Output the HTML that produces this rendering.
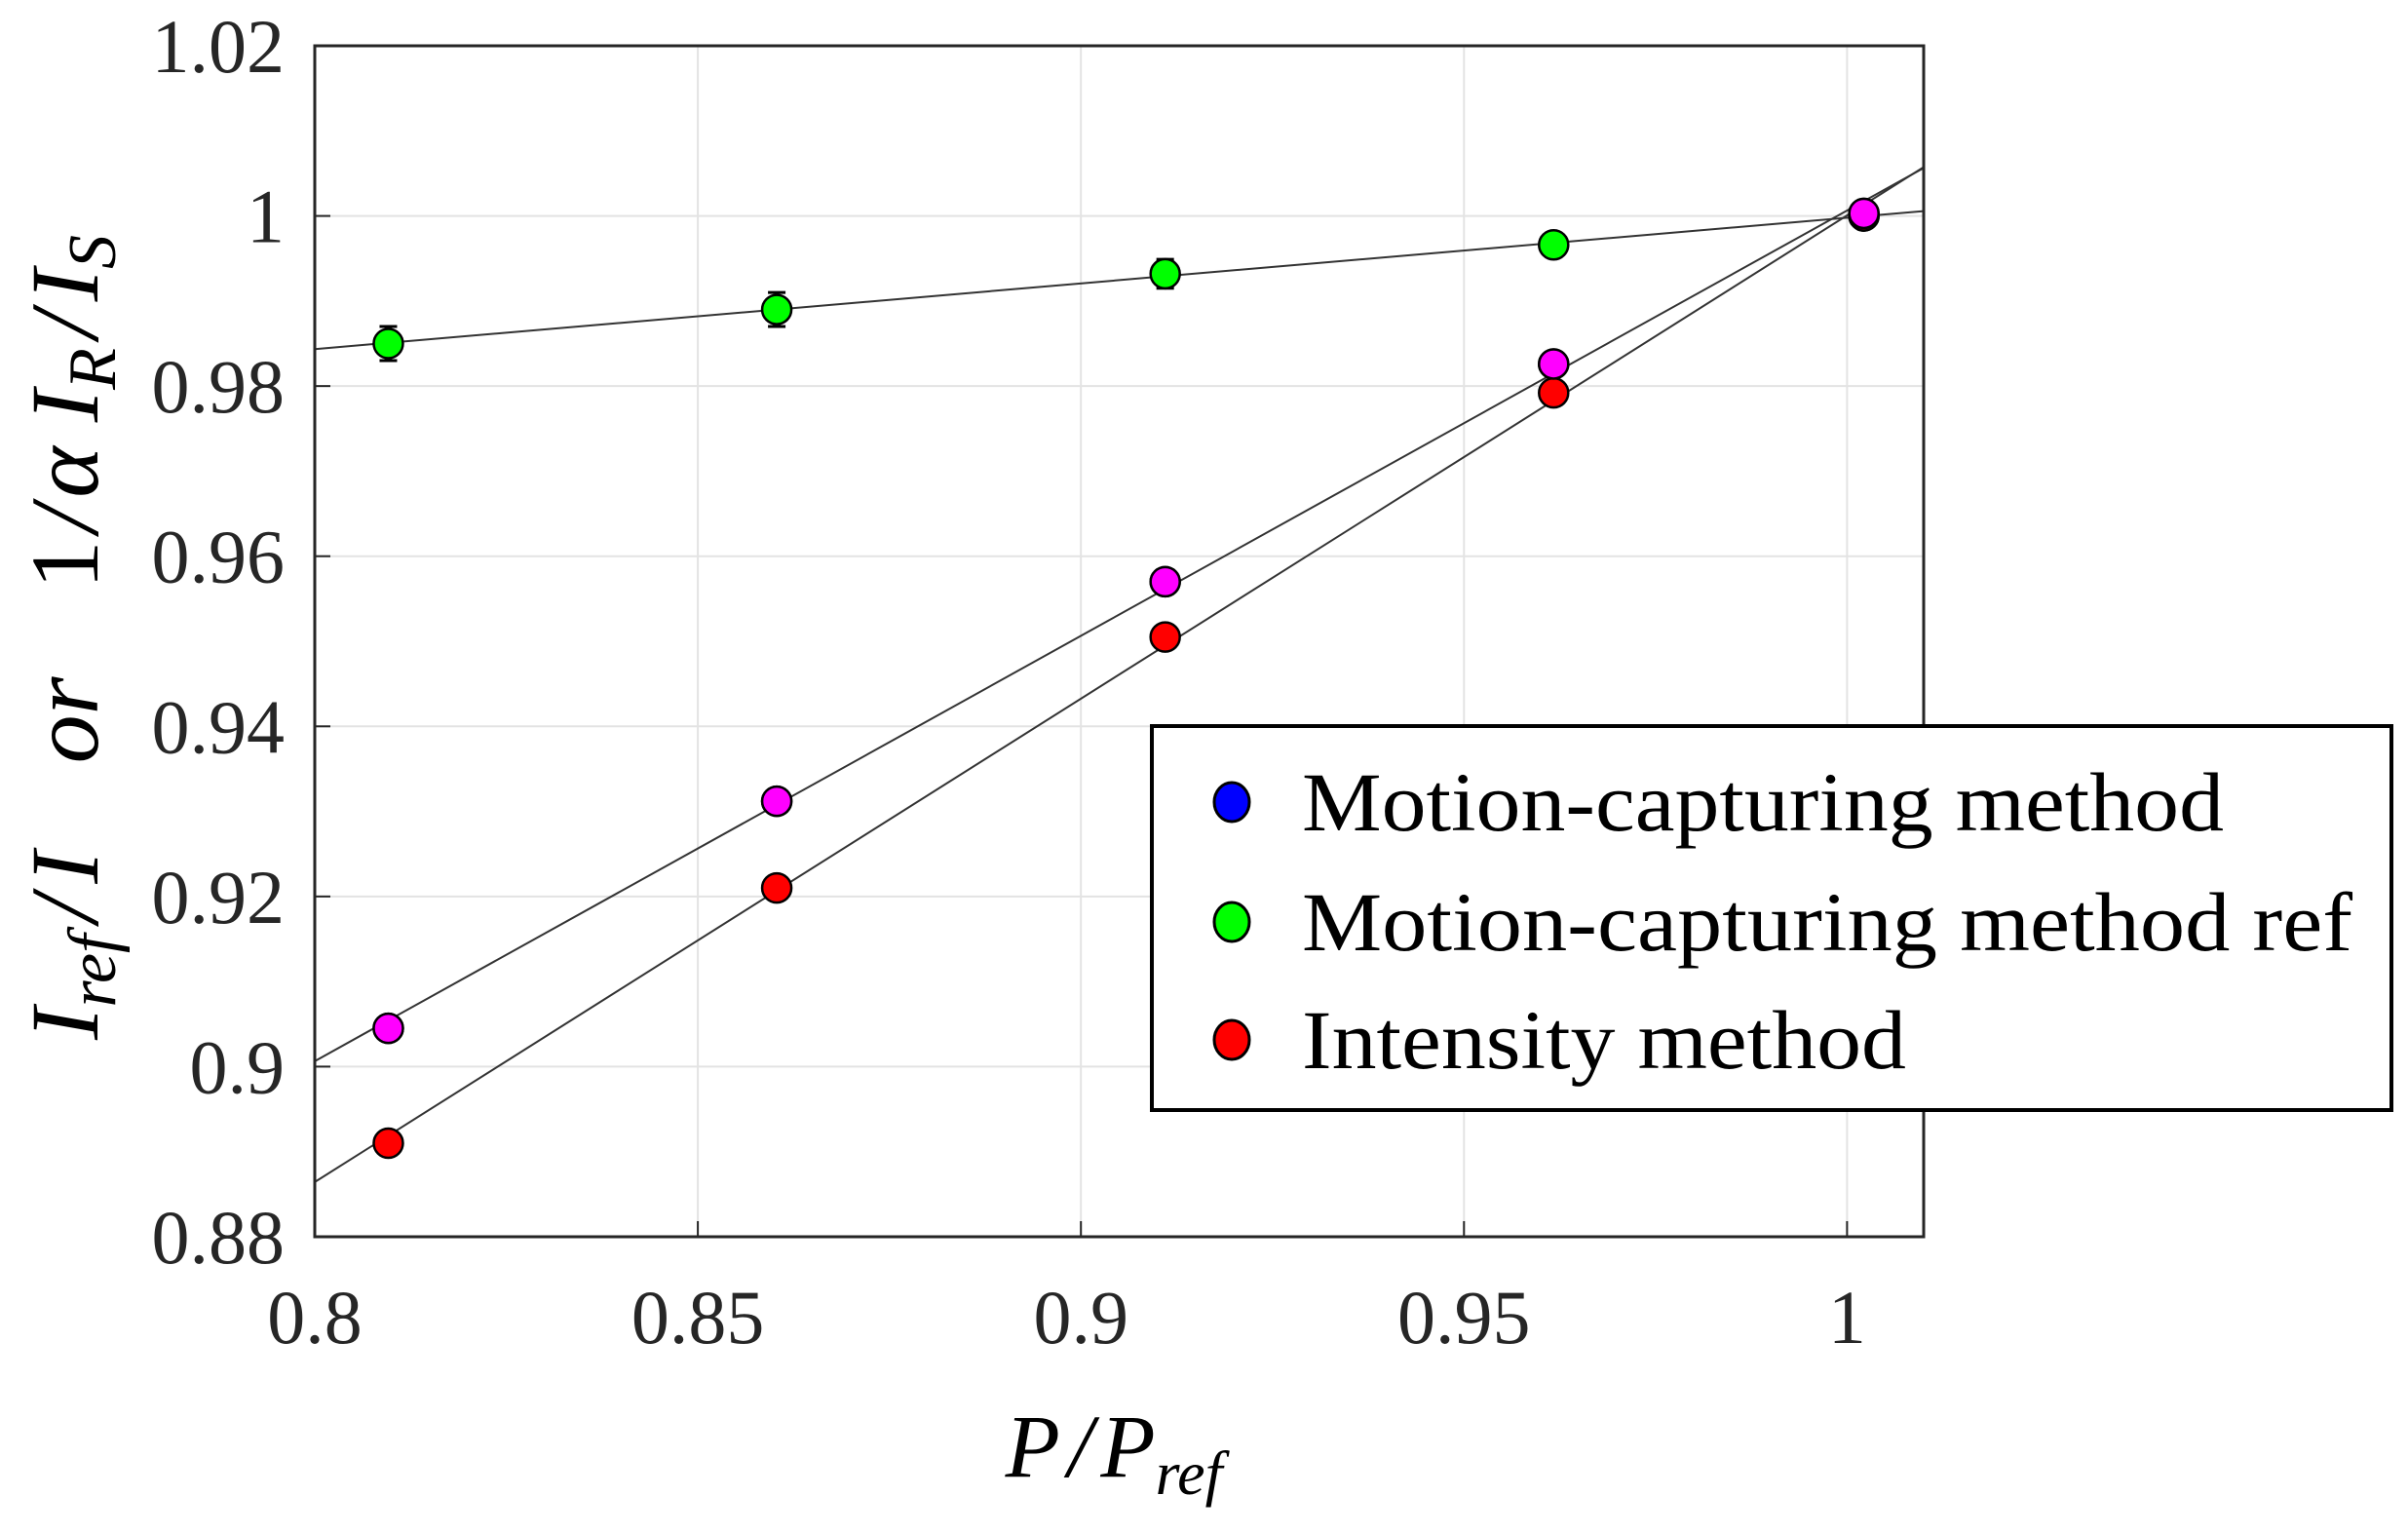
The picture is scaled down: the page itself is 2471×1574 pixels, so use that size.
<!DOCTYPE html>
<html><head><meta charset="utf-8"><style>
html,body{margin:0;padding:0;background:#fff;}
svg{display:block;}
text{font-family:"Liberation Serif",serif;fill:#262626;}
</style></head><body>
<svg id="chart" width="2471" height="1574" viewBox="0 0 2471 1574" xmlns="http://www.w3.org/2000/svg">
<g id="grid"></g>
<g id="fits"></g>
<g id="marks"></g>
<rect x="323" y="47" width="1651" height="1222" fill="none" stroke="#262626" stroke-width="3"/>
<g id="ticks"></g>
<text x="1143" y="1515" font-size="92" font-style="italic" text-anchor="middle" style="fill:#000">P<tspan dx="8">/</tspan><tspan dx="8">P</tspan><tspan font-size="64" dy="18">ref</tspan></text>
<text transform="translate(100,654) rotate(-90)" font-size="100" font-style="italic" text-anchor="middle" style="fill:#000">I<tspan font-size="70" dy="18">ref</tspan><tspan dy="-18" dx="12">/</tspan><tspan dx="12">I</tspan><tspan dx="90">or</tspan><tspan dx="90" font-style="normal">1</tspan><tspan dx="8">/</tspan><tspan dx="8">α I</tspan><tspan font-size="70" dy="18">R</tspan><tspan dy="-18" dx="10">/</tspan><tspan dx="10">I</tspan><tspan font-size="70" dy="18">S</tspan></text>
<g>
<rect x="1182" y="745" width="1272" height="394" fill="#fff" stroke="#000" stroke-width="4"/>
<g><ellipse cx="1264" cy="823" rx="18" ry="20" fill="#0000ff" stroke="#000" stroke-width="3"/><text x="1336" y="852" font-size="86" textLength="946" lengthAdjust="spacingAndGlyphs" style="fill:#000">Motion-capturing method</text></g>
<g><ellipse cx="1264" cy="946" rx="18" ry="20" fill="#00ff00" stroke="#000" stroke-width="3"/><text x="1336" y="975" font-size="86" textLength="1078" lengthAdjust="spacingAndGlyphs" style="fill:#000">Motion-capturing method ref</text></g>
<g><ellipse cx="1264" cy="1067" rx="18" ry="20" fill="#ff0000" stroke="#000" stroke-width="3"/><text x="1336" y="1096" font-size="86" textLength="620" lengthAdjust="spacingAndGlyphs" style="fill:#000">Intensity method</text></g>
</g>
</svg>
<script>
const xTicks=[0.8,0.85,0.9,0.95,1];
const xTickLabels=["0.8","0.85","0.9","0.95","1"];
const yTicks=[0.88,0.9,0.92,0.94,0.96,0.98,1,1.02];
const yTickLabels=["0.88","0.9","0.92","0.94","0.96","0.98","1","1.02"];
const xValues=[0.8096,0.8603,0.911,0.9617,1.0022];
const greenValues=[0.985,0.989,0.9932,0.9966,1.0];
const magentaValues=[0.9045,0.9312,0.957,0.9826,1.0003];
const redValues=[0.891,0.921,0.9505,0.9792,1.0];
const blueValues=[0.9045,0.9312,0.957,0.9826,1.0003];
const greenErr=[0.002,0.002,0.0017,0.0012,0.001];
const NS="http://www.w3.org/2000/svg";
const X0=323,X1=1974,Y0=47,Y1=1269,XMIN=0.8,XMAX=1.01,YMIN=0.88,YMAX=1.02;
function sx(v){return X0+(v-XMIN)/(XMAX-XMIN)*(X1-X0);}
function sy(v){return Y1-(v-YMIN)/(YMAX-YMIN)*(Y1-Y0);}
function mk(tag,attrs,parent){const e=document.createElementNS(NS,tag);for(const k in attrs)e.setAttribute(k,attrs[k]);parent.appendChild(e);return e;}
const grid=document.getElementById('grid'),ticks=document.getElementById('ticks'),fits=document.getElementById('fits'),marks=document.getElementById('marks');
xTicks.forEach((v,i)=>{
 const g=mk('line',{x1:sx(v),x2:sx(v),y1:Y0,y2:Y1,stroke:'#e3e3e3','stroke-width':2},grid);
 
 
 const t=mk('line',{x1:sx(v),x2:sx(v),y1:Y1,y2:Y1-16,stroke:'#262626','stroke-width':2},ticks);
 
 
 const l=mk('text',{x:sx(v),y:1378,'font-size':78,'text-anchor':'middle'},ticks);
 l.textContent=xTickLabels[i];
 
 
});
yTicks.forEach((v,i)=>{
 const g=mk('line',{x1:X0,x2:X1,y1:sy(v),y2:sy(v),stroke:'#e3e3e3','stroke-width':2},grid);
 
 
 const t=mk('line',{x1:X0,x2:X0+16,y1:sy(v),y2:sy(v),stroke:'#262626','stroke-width':2},ticks);
 
 
 const l=mk('text',{x:292,y:sy(v)+27,'font-size':78,'text-anchor':'end'},ticks);
 l.textContent=yTickLabels[i];
 
 
});
function fit(xs,ys){const n=xs.length;let mx=0,my=0;for(let i=0;i<n;i++){mx+=xs[i];my+=ys[i];}mx/=n;my/=n;let a=0,b=0;for(let i=0;i<n;i++){a+=(xs[i]-mx)*(ys[i]-my);b+=(xs[i]-mx)**2;}const s=a/b;return [s,my-s*mx];}
[[greenValues,'green'],[magentaValues,'magenta'],[redValues,'red']].forEach(([ys,nm])=>{
 const [s,c]=fit(xValues,ys);
 const l=mk('line',{x1:sx(XMIN),y1:sy(s*XMIN+c),x2:sx(XMAX),y2:sy(s*XMAX+c),stroke:'#333','stroke-width':2},fits);
 
 
});
function series(ys,fill,nm,errs){
 ys.forEach((v,i)=>{
  const cx=sx(xValues[i]),cy=sy(v);
  const e=errs?errs[i]:0.0008;
  const eb=mk('path',{d:`M${cx},${sy(v+e)}V${sy(v-e)}M${cx-9},${sy(v+e)}H${cx+9}M${cx-9},${sy(v-e)}H${cx+9}`,stroke:'#000','stroke-width':3,fill:'none'},marks);
  
  
  const p=mk('circle',{cx:cx,cy:cy,r:15,fill:fill,stroke:'#000','stroke-width':2.5},marks);
  
  
 });
}
series(blueValues,'#0000ff','blue');
series(greenValues,'#00ff00','green',greenErr);
series(redValues,'#ff0000','red');
series(magentaValues,'#ff00ff','magenta');
</script>
</body></html>
